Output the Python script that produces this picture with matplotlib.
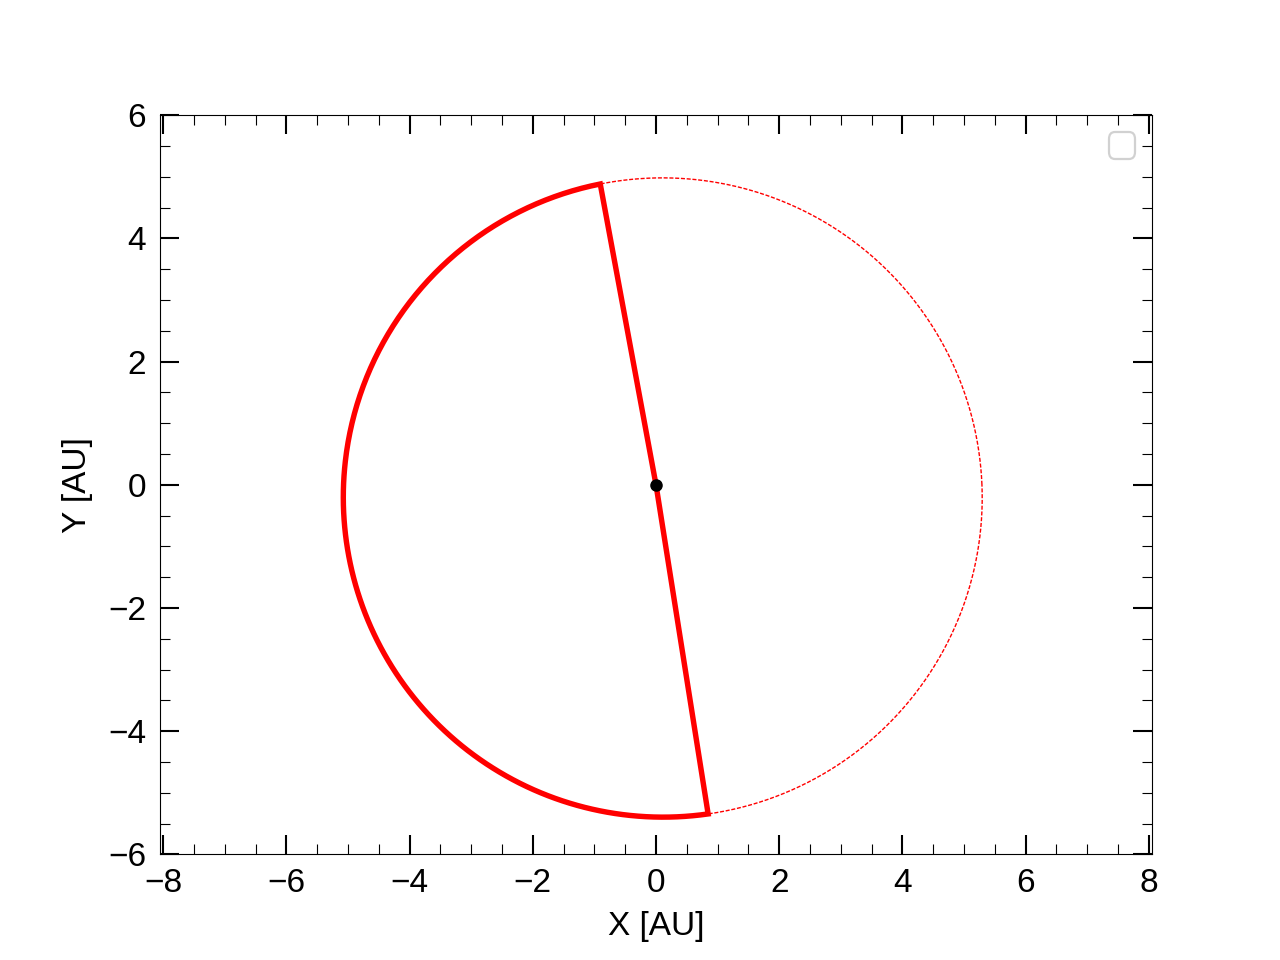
import numpy as np
import matplotlib
matplotlib.use("Agg")
import matplotlib.pyplot as plt

plt.rcParams['font.family'] = ['Liberation Sans', 'DejaVu Sans']

# Orbit parameters
semi_major = 5.19        # AU
eccentricity = 0.045
peri_angle_deg = 118.0   # direction of perihelion
arc_start_deg = 100.5    # start of swept (thick) arc
arc_end_deg = 279.0      # end of swept (thick) arc
star_xy = [0.0, 0.0]

y_limits = [-6, 6]
x_ticks = [-8, -6, -4, -2, 0, 2, 4, 6, 8]
y_ticks = [-6, -4, -2, 0, 2, 4, 6]


def orbit_xy(theta_deg):
    th = np.radians(theta_deg)
    nu = th - np.radians(peri_angle_deg)
    r = semi_major * (1 - eccentricity**2) / (1 + eccentricity * np.cos(nu))
    return r * np.cos(th), r * np.sin(th)


fig, ax = plt.subplots(figsize=(12.8, 9.6), dpi=100)

theta_full = np.linspace(0, 360, 721)
xf, yf = orbit_xy(theta_full)
ax.plot(xf, yf, color='red', lw=1.0, ls=(0, (2.9, 1.25)))

theta_arc = np.linspace(arc_start_deg, arc_end_deg, 400)
xa, ya = orbit_xy(theta_arc)
xs = np.concatenate([[star_xy[0]], xa, [star_xy[0]]])
ys = np.concatenate([[star_xy[1]], ya, [star_xy[1]]])
ax.plot(xs, ys, color='red', lw=3.9, solid_joinstyle='miter')

ax.plot(star_xy[0], star_xy[1], 'o', color='black', ms=8)

# equal aspect: keep y range, widen x range to fill the axes box
bbox = ax.get_position()
w_px = bbox.width * fig.get_figwidth()
h_px = bbox.height * fig.get_figheight()
half_x = (y_limits[1] - y_limits[0]) / 2 * w_px / h_px
ax.set_ylim(y_limits)
ax.set_xlim(-half_x, half_x)

ax.set_xticks(x_ticks)
ax.set_yticks(y_ticks)
ax.xaxis.set_minor_locator(matplotlib.ticker.MultipleLocator(0.5))
ax.yaxis.set_minor_locator(matplotlib.ticker.MultipleLocator(0.5))
ax.tick_params(which='both', direction='in', top=True, right=True,
               labelsize=24, pad=10)
ax.tick_params(which='major', length=14, width=1.5)
ax.tick_params(which='minor', length=7, width=0.8)

ax.set_xlabel('X [AU]', fontsize=24, labelpad=8.5)
ax.set_ylabel('Y [AU]', fontsize=24, labelpad=10.5)

leg = ax.legend(handles=[], loc='upper right', fontsize=24, framealpha=1.0)
leg.get_frame().set_edgecolor('0.82')
leg.get_frame().set_linewidth(1.6)

fig.savefig('out.png', dpi=100)
